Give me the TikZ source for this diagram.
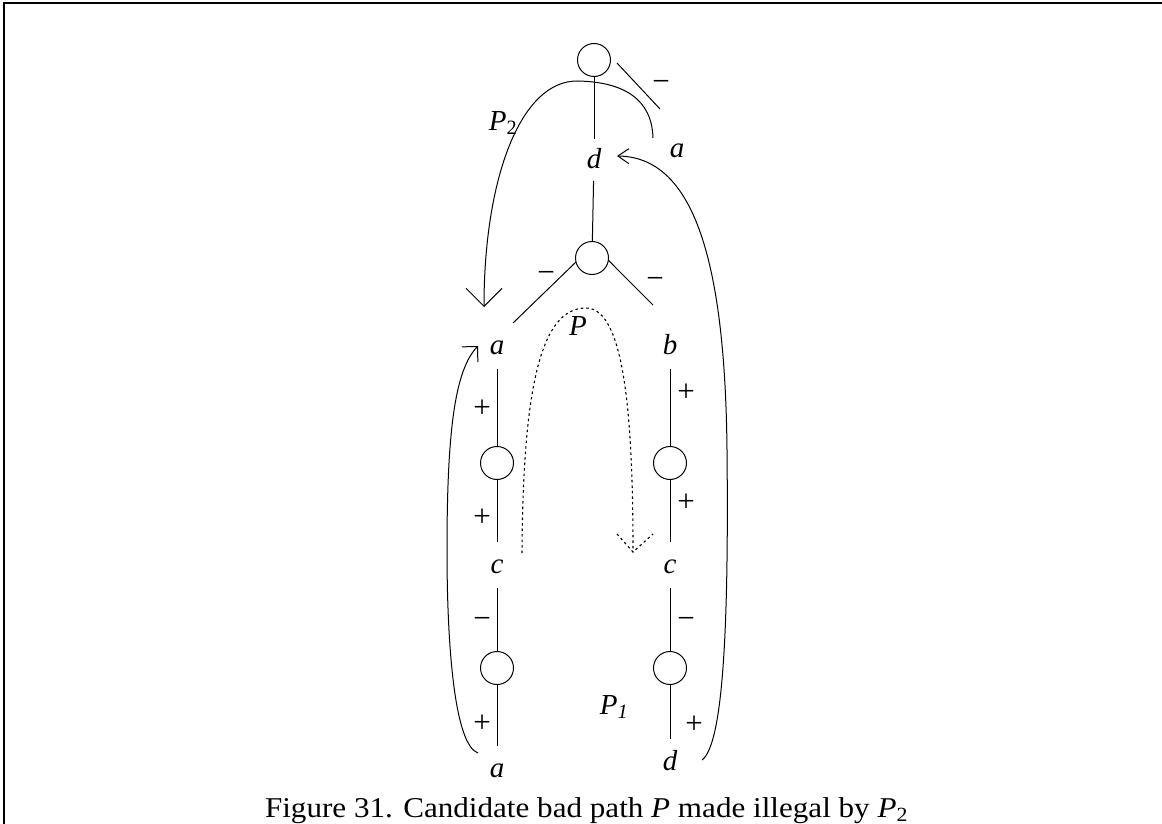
\documentclass[tikz,border=0pt]{standalone}
\usepackage{fontspec}
\setmainfont{Liberation Serif}
\usetikzlibrary{arrows.meta}
\begin{document}
\begin{tikzpicture}[x=1pt,y=-1pt,line width=1pt,
  vtx/.style={circle,draw,minimum size=33pt,inner sep=0pt,outer sep=0pt},
  lbl/.style={anchor=base,inner sep=0pt,outer sep=11pt,text height=20pt,text depth=4pt,font=\fontsize{29}{29}\selectfont\itshape},
  sgn/.style={inner sep=0pt,font=\fontsize{31}{31}\selectfont},
  tag/.style={inner sep=0pt,font=\fontsize{29}{29}\selectfont\itshape},
  bigtip/.style={-{Straight Barb[length=18pt,width=36pt]}},
  smalltip/.style={-{Straight Barb[length=11pt,width=15pt]}},
  looptip/.style={-{Straight Barb[length=11pt,width=22pt]}},
  dotpath/.style={dash pattern=on 2.5pt off 3pt,line width=1.1pt},
  frame/.style={line width=2.5pt}]
\useasboundingbox (0,0) rectangle (1162,824);
% frame
\draw[frame] (4,824) -- (4,3) -- (1162,3);

% vertices
\node[vtx] (t) at (594,60) {};
\node[vtx] (m) at (592,258) {};
\node[vtx] (c1) at (497,463) {};
\node[vtx] (c2) at (670,463) {};
\node[vtx] (c3) at (497,668) {};
\node[vtx] (c4) at (670,668) {};

% vertex labels
\node[lbl,outer sep=9pt] (dtop) at (594,168) {d};
\node[lbl] (la) at (497,354) {a};
\node[lbl] (lb) at (670,354) {b};
\node[lbl] (lc1) at (497,573) {c};
\node[lbl] (lc2) at (670,573) {c};
\node[lbl] (la2) at (497,777) {a};
\node[lbl] (ld2) at (670,770) {d};

% free ends
\coordinate (ts1) at (617,63);
\coordinate (ts2) at (660,109);
\coordinate (mL) at (513,323);
\coordinate (mR) at (653,305);

% edges
\draw (t) -- (dtop);
\draw (dtop) -- (m);
\draw (ts1) -- (ts2);
\draw (m.194) -- (mL);
\draw (m.-8) -- (mR);
\draw (la) -- (c1);
\draw (c1) -- (lc1);
\draw (lc1) -- (c3);
\draw (c3) -- (la2);
\draw (lb) -- (c2);
\draw (c2) -- (lc2);
\draw (lc2) -- (c4);
\draw (c4) -- (ld2);

% signs
\node[sgn] (s1) at (661,86) {−};
\node[sgn] (s2) at (546,277) {−};
\node[sgn] (s3) at (655,283) {−};
\node[sgn] (s4) at (482,409) {+};
\node[sgn] (s5) at (482,518) {+};
\node[sgn] (s6) at (482,623) {−};
\node[sgn] (s7) at (482,724) {+};
\node[sgn] (s8) at (686,393) {+};
\node[sgn] (s9) at (686,503) {+};
\node[sgn] (s10) at (686,623) {−};
\node[sgn] (s11) at (694,725) {+};

% other labels
\node[tag] (atop) at (677,151) {a};
\node[tag] (lP2) at (503,123) {P\textsubscript{\normalfont 2}};
\node[tag] (lP) at (578,326) {P};
\node[tag] (lP1) at (614,707) {P\textsubscript{1}};

% P2 path
\coordinate (p2s) at (653,138);
\coordinate (p2top) at (578,81);
\coordinate (p2e) at (484,307);
\draw[bigtip] (p2s) .. controls (652,100) and (625,82) .. (p2top)
  .. controls (520,80) and (484,180) .. (p2e);

% P1 long arrow into d
\coordinate (p1s) at (702,760);
\coordinate (p1mid) at (727,450);
\coordinate (dtip) at (617,156);
\draw[smalltip] (p1s) .. controls (722,745) and (729,640) .. (p1mid)
  .. controls (725,250) and (690,157) .. (dtip);

% left loop
\coordinate (ls) at (478,753);
\coordinate (lmid) at (447,550);
\coordinate (le) at (478,346);
\draw[looptip] (ls) .. controls (455,745) and (447,650) .. (lmid)
  .. controls (447,430) and (455,370) .. (le);

% dotted P
\coordinate (ps) at (522,553);
\coordinate (ptop) at (586,308);
\coordinate (pe) at (633,552);
\draw[dotpath] (ps) .. controls (523,390) and (540,308) .. (ptop)
  .. controls (625,308) and (633,420) .. (pe);
\draw[dotpath] (pe) ++(-16,-18) -- (pe) -- ++(20,-18);

% caption
\node[anchor=base,inner sep=0pt,font=\fontsize{28.7}{28.7}\selectfont] (cap) at (586.5,817)
  {\scalebox{1.084}[1]{Figure 31. Candidate bad path \textit{P} made illegal by \textit{P}\textsubscript{2}}};
\end{tikzpicture}
\end{document}
